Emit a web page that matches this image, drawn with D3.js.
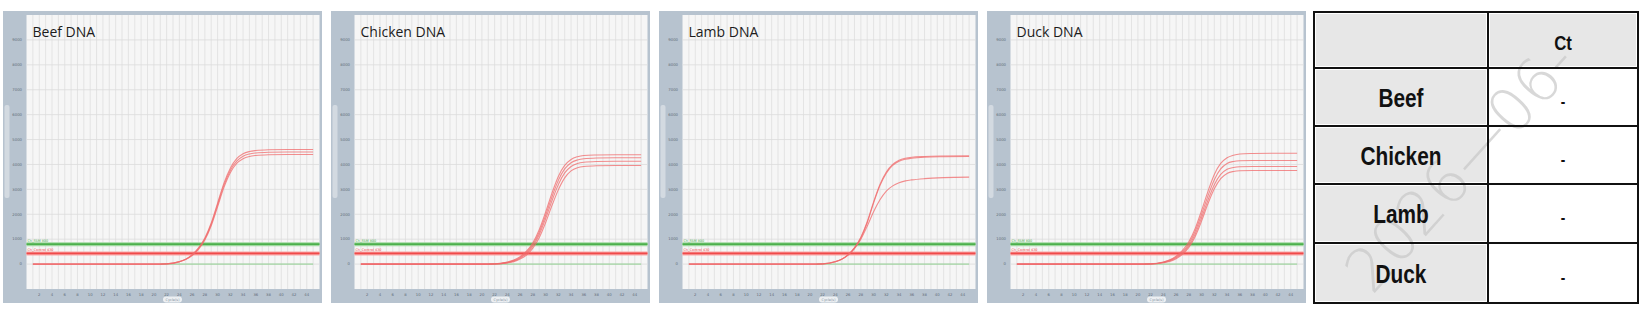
<!DOCTYPE html>
<html>
<head>
<meta charset="utf-8">
<script src="https://cdn.jsdelivr.net/npm/d3@7"></script>
<style>
  body { margin: 0; background: #fff; }
  svg { display: block; }
</style>
</head>
<body>
<script>
// panel titles
const panelNames = ["Beef DNA", "Chicken DNA", "Lamb DNA", "Duck DNA"];

const cycles = [1, 20, 22, 24, 25, 26, 27, 28, 29, 30, 31, 32, 33, 34, 35, 36, 38, 41, 45];

const beefCurves = [
  [0, 0, 10, 100, 200, 380, 650, 1050, 1650, 2450, 3250, 3850, 4230, 4430, 4520, 4560, 4590, 4600, 4600],
  [0, 0, 10, 95, 190, 360, 620, 1010, 1600, 2380, 3170, 3760, 4130, 4330, 4420, 4460, 4490, 4500, 4500],
  [0, 0, 10, 90, 180, 340, 590, 970, 1540, 2300, 3080, 3670, 4040, 4230, 4320, 4360, 4390, 4400, 4400]
];
const chickenCurves = [
  [0, 0, 8, 80, 160, 300, 520, 860, 1380, 2080, 2850, 3520, 3960, 4200, 4310, 4360, 4380, 4390, 4390],
  [0, 0, 7, 70, 140, 270, 470, 790, 1280, 1950, 2700, 3360, 3820, 4070, 4180, 4230, 4260, 4270, 4270],
  [0, 0, 6, 60, 120, 240, 420, 720, 1180, 1820, 2540, 3190, 3660, 3920, 4040, 4090, 4120, 4130, 4130],
  [0, 0, 5, 50, 100, 200, 360, 640, 1060, 1660, 2350, 2980, 3460, 3740, 3870, 3920, 3950, 3960, 3960]
];
const lambCurves = [
  [0, 0, 10, 100, 200, 380, 660, 1080, 1700, 2500, 3200, 3700, 4000, 4170, 4250, 4290, 4320, 4340, 4350],
  [0, 0, 10, 95, 195, 370, 640, 1050, 1660, 2450, 3150, 3650, 3960, 4130, 4210, 4250, 4290, 4310, 4320],
  [0, 0, 10, 95, 190, 360, 620, 1000, 1520, 2100, 2580, 2930, 3140, 3270, 3340, 3380, 3430, 3470, 3490]
];
const duckCurves = [
  [0, 0, 8, 85, 170, 320, 550, 900, 1430, 2150, 2920, 3600, 4040, 4270, 4370, 4420, 4440, 4450, 4450],
  [0, 0, 7, 75, 150, 285, 490, 820, 1320, 2000, 2740, 3390, 3820, 4040, 4120, 4150, 4160, 4160, 4160],
  [0, 0, 6, 65, 130, 250, 440, 740, 1210, 1860, 2570, 3190, 3600, 3810, 3880, 3910, 3920, 3920, 3920],
  [0, 0, 5, 55, 110, 215, 390, 670, 1110, 1730, 2420, 3020, 3430, 3640, 3720, 3750, 3760, 3760, 3760]
];
const ampCurves = [beefCurves, chickenCurves, lambCurves, duckCurves];

// negative control trace (flat), start/end cycles
const ntcCycles = [21, 45];
const ntcValues = [0, 0];

// threshold lines
const thresholdNames = ["Ch_FAM  800", "Ch_Control  430"];
const thresholdValues = [800, 430];

const yTickValues = [0, 1000, 2000, 3000, 4000, 5000, 6000, 7000, 8000, 9000];
const xTickValues = [2, 4, 6, 8, 10, 12, 14, 16, 18, 20, 22, 24, 26, 28, 30, 32, 34, 36, 38, 40, 42, 44];
const gridCycles = d3.range(1, 46);

// table
const tableHeader = ["", "Ct"];
const tableRows = ["Beef", "Chicken", "Lamb", "Duck"];
const ctValues = ["-", "-", "-", "-"];

const svg = d3.select("body").append("svg")
    .attr("width", 1646)
    .attr("height", 311);

const fW = 319, fH = 292;
const x = d3.scaleLinear().domain([0, 46]).range([23.5, 316.5]);
const y = d3.scaleLinear().domain([-1000, 10000]).range([278, 4]);

const line = d3.line()
    .x(d => x(d[0]))
    .y(d => y(d[1]))
    .curve(d3.curveMonotoneX);

const threshColors = ["#4cb04c", "#f04a4a"];
const threshHalo = ["#9fd89f", "#f9a5a5"];

panelNames.forEach((name, i) => {
  const g = svg.append("g")
      .attr("transform", `translate(${3 + i * 328},11)`);

  // frame
  g.append("rect")
      .attr("width", fW).attr("height", fH)
      .attr("fill", "#b7c3cf");

  // plot background
  g.append("rect")
      .attr("x", x(0)).attr("y", y(10000))
      .attr("width", x(46) - x(0)).attr("height", y(-1000) - y(10000))
      .attr("fill", "#f6f6f6");

  // grid
  g.append("g").selectAll("line")
    .data(gridCycles)
    .join("line")
      .attr("x1", d => x(d)).attr("x2", d => x(d))
      .attr("y1", y(10000)).attr("y2", y(-1000))
      .attr("stroke", "#dedede").attr("stroke-width", 0.8);

  g.append("g").selectAll("line")
    .data(yTickValues)
    .join("line")
      .attr("x1", x(0)).attr("x2", x(46))
      .attr("y1", d => y(d)).attr("y2", d => y(d))
      .attr("stroke", "#dcdcdc").attr("stroke-width", 0.8);

  // tick labels
  g.append("g").selectAll("text")
    .data(yTickValues)
    .join("text")
      .attr("x", 19).attr("y", d => y(d) + 1.3)
      .attr("text-anchor", "end")
      .attr("font-family", "DejaVu Sans, sans-serif")
      .attr("font-size", 3.8)
      .attr("fill", "#5f6b78")
      .text(d => d);

  g.append("g").selectAll("text")
    .data(xTickValues)
    .join("text")
      .attr("x", d => x(d)).attr("y", 284.5)
      .attr("text-anchor", "middle")
      .attr("font-family", "DejaVu Sans, sans-serif")
      .attr("font-size", 3.8)
      .attr("fill", "#5f6b78")
      .text(d => d);

  // side tab (y axis title) and bottom tab (x axis title)
  g.append("rect")
      .attr("x", 1.5).attr("y", 94).attr("width", 5).attr("height", 93)
      .attr("rx", 2).attr("fill", "#d3dae1");
  g.append("rect")
      .attr("x", 160).attr("y", 285.5).attr("width", 19).attr("height", 6)
      .attr("rx", 3).attr("fill", "#eceff2");
  g.append("text")
      .attr("x", 169.5).attr("y", 289.8)
      .attr("text-anchor", "middle")
      .attr("font-family", "DejaVu Sans, sans-serif")
      .attr("font-size", 3.5)
      .attr("fill", "#8a96a3")
      .text("Cycle(s)");

  // threshold lines
  thresholdValues.forEach((v, k) => {
    g.append("line")
        .attr("x1", x(0)).attr("x2", x(46))
        .attr("y1", y(v)).attr("y2", y(v))
        .attr("stroke", threshHalo[k]).attr("stroke-width", 4);
    g.append("line")
        .attr("x1", x(0)).attr("x2", x(46))
        .attr("y1", y(v)).attr("y2", y(v))
        .attr("stroke", threshColors[k]).attr("stroke-width", 1.6);
    g.append("text")
        .attr("x", x(0) + 1).attr("y", y(v) - 2.2)
        .attr("font-family", "DejaVu Sans, sans-serif")
        .attr("font-size", 3.4)
        .attr("fill", threshColors[k])
        .text(thresholdNames[k]);
  });

  // negative control
  g.append("path")
      .datum(ntcCycles.map((c, k) => [c, ntcValues[k]]))
      .attr("d", line)
      .attr("fill", "none")
      .attr("stroke", "#8fd08f")
      .attr("stroke-width", 1);

  // amplification curves
  g.append("g").selectAll("path")
    .data(ampCurves[i])
    .join("path")
      .attr("d", vals => line(cycles.map((c, k) => [c, vals[k]])))
      .attr("fill", "none")
      .attr("stroke", "#f0696b")
      .attr("stroke-opacity", 0.75)
      .attr("stroke-width", 1.1);

  // title
  g.append("text")
      .attr("x", 29.5).attr("y", 26)
      .attr("font-family", "Open Sans, sans-serif")
      .attr("font-size", 14)
      .attr("fill", "#1c1c1c")
      .text(name);
});

// table
const tX = 1314, tW = 324, colX = 1488;
const rowY = [12, 68, 126, 184, 243, 303];
const table = svg.append("g");

const cells = [];
[tableHeader[0]].concat(tableRows).forEach((label, r) => {
  cells.push({x0: tX, x1: colX, y0: rowY[r], y1: rowY[r + 1], text: label, gray: true, size: 26});
  const right = r === 0 ? tableHeader[1] : ctValues[r - 1];
  cells.push({x0: colX, x1: tX + tW, y0: rowY[r], y1: rowY[r + 1], text: right, gray: r === 0, size: r === 0 ? 21 : 17});
});

table.selectAll("rect.cell")
  .data(cells.filter(c => c.gray))
  .join("rect")
    .attr("class", "cell")
    .attr("x", c => c.x0 + 2).attr("y", c => c.y0 + 2)
    .attr("width", c => c.x1 - c.x0 - 4).attr("height", c => c.y1 - c.y0 - 4)
    .attr("fill", "#e7e7e7");

// watermark
table.append("text")
    .attr("transform", "translate(1372,296) rotate(-48)")
    .attr("font-family", "DejaVu Sans, sans-serif")
    .attr("font-size", 60)
    .attr("font-weight", 200)
    .attr("fill", "#c8c8c8")
    .attr("fill-opacity", 0.7)
    .text("2026—06-");

table.selectAll("text.cell")
  .data(cells)
  .join("text")
    .attr("class", "cell")
    .attr("transform", c => `translate(${(c.x0 + c.x1) / 2},${(c.y0 + c.y1) / 2 + 9.5}) scale(0.8,1)`)
    .attr("text-anchor", "middle")
    .attr("font-family", "Liberation Sans, Arial, sans-serif")
    .attr("font-weight", 700)
    .attr("font-size", c => c.size)
    .attr("fill", "#111")
    .text(c => c.text);

// grid lines of the table
rowY.forEach(yy => {
  table.append("line")
      .attr("x1", tX).attr("x2", tX + tW)
      .attr("y1", yy).attr("y2", yy)
      .attr("stroke", "#111").attr("stroke-width", 2);
});
[tX, colX, tX + tW].forEach(xx => {
  table.append("line")
      .attr("x1", xx).attr("x2", xx)
      .attr("y1", rowY[0] - 1).attr("y2", rowY[rowY.length - 1] + 1)
      .attr("stroke", "#111").attr("stroke-width", 2);
});
</script>
</body>
</html>
